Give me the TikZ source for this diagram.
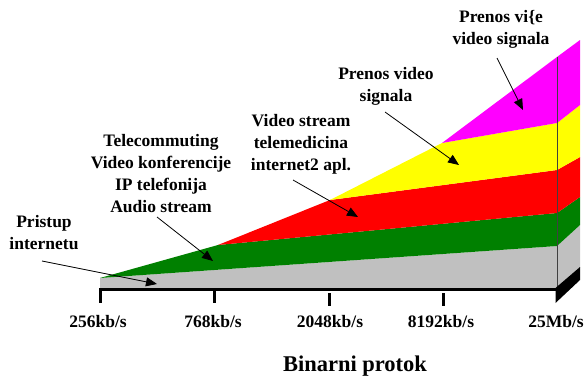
\documentclass[tikz,border=0pt]{standalone}
\usepackage{fontspec}
\setmainfont{Liberation Serif}
\usetikzlibrary{arrows.meta}
\definecolor{bandgray}{RGB}{192,192,192}
\definecolor{bandgreen}{RGB}{0,128,0}
\definecolor{bandred}{RGB}{255,0,0}
\definecolor{bandyellow}{RGB}{255,255,0}
\definecolor{bandmagenta}{RGB}{255,0,255}
\begin{document}
\begin{tikzpicture}[x=1pt,y=-1pt,
  lbl/.style={font=\bfseries\fontsize{17.5}{22}\selectfont, align=center, inner sep=0pt},
  ticklbl/.style={font=\bfseries\fontsize{17.5}{22}\selectfont, inner sep=0pt},
  pointer/.style={-{Triangle[length=11pt,width=9pt]}, line width=0.8pt},
  axisline/.style={line width=3pt}]
\useasboundingbox (0,0) rectangle (587,380);

% stacked bands, front faces and right-hand side faces
\fill[bandgray] (100,288) -- (557,288) -- (557,246) -- (100,278) -- cycle;
\fill[bandgray] (557,288) -- (580,268) -- (580,225) -- (557,246) -- cycle;
\fill[bandgreen] (100,278) -- (557,246) -- (557,213) -- (218,245) -- cycle;
\fill[bandgreen] (557,246) -- (580,225) -- (580,197) -- (557,213) -- cycle;
\fill[bandred] (218,245) -- (557,213) -- (557,170) -- (330,200) -- cycle;
\fill[bandred] (557,213) -- (580,197) -- (580,157) -- (557,170) -- cycle;
\fill[bandyellow] (330,200) -- (557,170) -- (557,123) -- (442,143) -- cycle;
\fill[bandyellow] (557,170) -- (580,157) -- (580,105) -- (557,123) -- cycle;
\fill[bandmagenta] (442,143) -- (557,123) -- (557,57) -- cycle;
\fill[bandmagenta] (557,123) -- (580,105) -- (580,40) -- (557,57) -- cycle;

% front/side edge
\draw[line width=0.8pt, black!75] (557,57) -- (557,288);

% rate axis
\draw[axisline] (100,289.5) -- (557,289.5);
\draw[axisline] (100,288) -- (100,303);
\draw[axisline] (214,288) -- (214,303);
\draw[axisline] (329,293) -- (329,306);
\draw[axisline] (443,293) -- (443,306);
\fill (555.5,288) -- (580,267) -- (580,280) -- (555.5,303) -- cycle;

\node[ticklbl] (r1) at (98,322) {256kb/s};
\node[ticklbl] (r2) at (213,322) {768kb/s};
\node[ticklbl] (r3) at (330,322) {2048kb/s};
\node[ticklbl] (r4) at (441,322) {8192kb/s};
\node[ticklbl] (r5) at (556,322) {25Mb/s};
\node[font=\bfseries\fontsize{22.5}{26}\selectfont, inner sep=0pt] (xt) at (355,366) {Binarni protok};

% service labels
\node[lbl] (t1) at (501,29) {Prenos vi\{e\\video signala};
\node[lbl] (t2) at (386,86.5) {Prenos video\\signala};
\node[lbl] (t3) at (301,144.5) {Video stream\\telemedicina\\internet2 apl.};
\node[lbl] (t4) at (161,174) {Telecommuting\\Video konferencije\\IP telefonija\\Audio stream};
\node[lbl] (t5) at (44,232.5) {Pristup\\internetu};

% pointers into the bands
\coordinate (a1s) at (497,58);  \coordinate (a1e) at (523,110);
\coordinate (a2s) at (385,112); \coordinate (a2e) at (459,165);
\coordinate (a3s) at (293,180); \coordinate (a3e) at (358,217);
\coordinate (a4s) at (157,217); \coordinate (a4e) at (213,261);
\coordinate (a5s) at (42,261);  \coordinate (a5e) at (157,284);
\draw[pointer] (a1s) -- (a1e);
\draw[pointer] (a2s) -- (a2e);
\draw[pointer] (a3s) -- (a3e);
\draw[pointer] (a4s) -- (a4e);
\draw[pointer] (a5s) -- (a5e);
\end{tikzpicture}
\end{document}
